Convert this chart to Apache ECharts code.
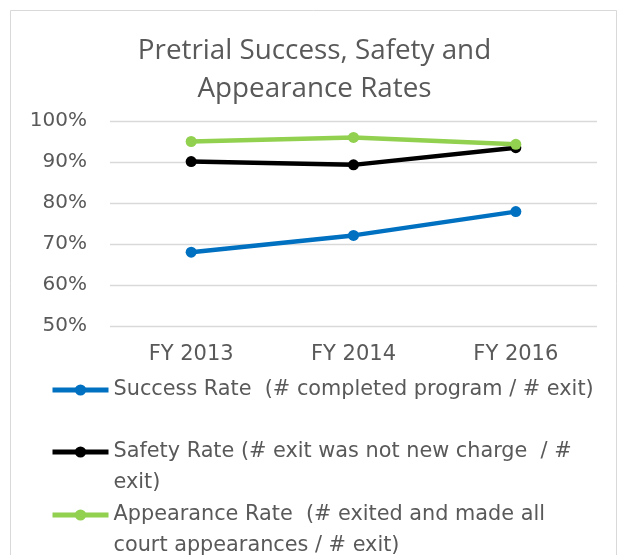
<!DOCTYPE html>
<html>
<head>
<meta charset="utf-8">
<script src="https://cdn.jsdelivr.net/npm/echarts@6/dist/echarts.min.js"></script>
<style>
html,body{margin:0;padding:0;background:#fff;}
#chart{width:629px;height:555px;}
</style>
</head>
<body>
<div id="chart"></div>
<script>
const categories = ['FY 2013', 'FY 2014', 'FY 2016'];
const successRate = [68.0, 72.1, 77.9];
const safetyRate = [90.1, 89.3, 93.5];
const appearanceRate = [95.0, 96.0, 94.3];
const seriesNames = [
  'Success Rate  (# completed program / # exit)',
  'Safety Rate (# exit was not new charge  / # exit)',
  'Appearance Rate  (# exited and made all court appearances / # exit)'
];
// legend display lines (wrapped as in the reference)
const legendLines = {};
legendLines[seriesNames[0]] = ['Success Rate  (# completed program / # exit)'];
legendLines[seriesNames[1]] = ['Safety Rate (# exit was not new charge  / #', 'exit)'];
legendLines[seriesNames[2]] = ['Appearance Rate  (# exited and made all', 'court appearances / # exit)'];
const colors = ['#0070C0', '#000000', '#92D050'];

const chart = echarts.init(document.getElementById('chart'));
const textColor = '#595959';
const labelFont = 'DejaVu Sans, sans-serif';

function makeLegend(i, top) {
  return {
    data: [seriesNames[i]],
    left: 45,
    top: top,
    orient: 'horizontal',
    itemWidth: 56,
    itemHeight: 14,
    itemGap: 5,
    selectedMode: false,
    lineStyle: { width: 5 },
    formatter: function (name) {
      const lines = legendLines[name];
      if (lines.length === 1) return lines[0];
      return '\n' + lines.join('\n');
    },
    textStyle: { color: textColor, fontSize: 20.8, fontFamily: labelFont, lineHeight: 31 }
  };
}

const option = {
  backgroundColor: '#ffffff',
  animation: false,
  title: {
    text: 'Pretrial Success, Safety and\nAppearance Rates',
    left: 'center',
    top: 27,
    textStyle: { color: textColor, fontSize: 27.8, fontWeight: 'normal', fontFamily: 'Open Sans, sans-serif', lineHeight: 38 }
  },
  graphic: [{
    type: 'rect',
    shape: { x: 10.5, y: 10.5, width: 606, height: 600 },
    style: { fill: 'none', stroke: '#D9D9D9', lineWidth: 1 },
    silent: true, z: -1
  }],
  legend: [makeLegend(0, 369.5), makeLegend(1, 400.5), makeLegend(2, 463.5)],
  grid: { left: 110, right: 32, top: 121, bottom: 229, containLabel: false },
  xAxis: {
    type: 'category',
    data: categories,
    boundaryGap: true,
    axisLine: { show: false },
    axisTick: { show: false },
    axisLabel: { color: textColor, fontSize: 21, fontFamily: labelFont, margin: 18 }
  },
  yAxis: {
    type: 'value',
    min: 50, max: 100, interval: 10,
    axisLine: { show: false },
    axisTick: { show: false },
    splitLine: { lineStyle: { color: '#D9D9D9', width: 1.3 } },
    axisLabel: { color: textColor, fontSize: 20, fontFamily: labelFont, margin: 23, formatter: '{value}%' }
  },
  series: [successRate, safetyRate, appearanceRate].map(function (d, i) {
    return {
      name: seriesNames[i],
      type: 'line',
      data: d,
      symbol: 'circle',
      symbolSize: 11,
      color: colors[i],
      lineStyle: { width: 4.5, color: colors[i] },
      itemStyle: { color: colors[i] },
      z: 2 + (i === 2 ? 1 : 0)
    };
  })
};
chart.setOption(option);
</script>
</body>
</html>
